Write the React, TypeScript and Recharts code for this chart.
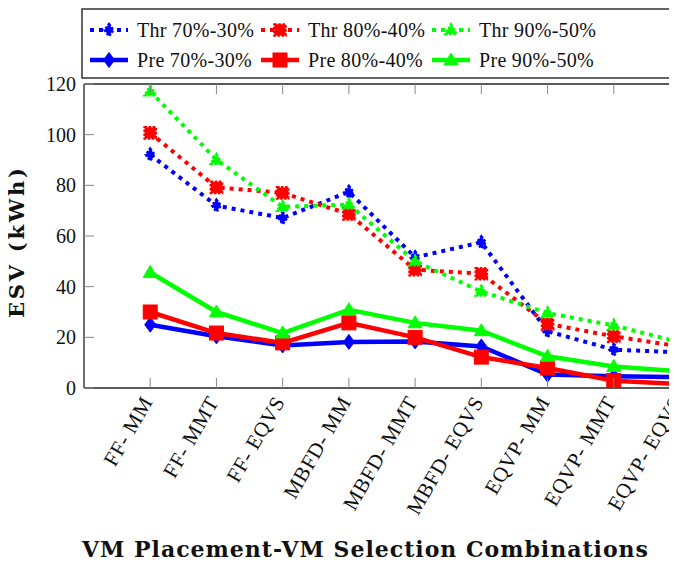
import { Line, LineChart, XAxis, YAxis } from "recharts";

const categories = ["FF- MM", "FF- MMT", "FF- EQVS", "MBFD- MM", "MBFD- MMT", "MBFD- EQVS", "EQVP- MM", "EQVP- MMT", "EQVP- EQVS"];
const thr70 = [92.1, 72, 67.1, 77.4, 51.6, 57.5, 22.4, 15.1, 14.1];
const thr80 = [100.7, 79.2, 77, 68.7, 46.7, 45.1, 25.3, 20.4, 16.4];
const thr90 = [117.1, 90.1, 71.5, 72.4, 50, 38.1, 29.6, 24.7, 18];
const pre70 = [25, 20.4, 16.8, 18.2, 18.4, 16.4, 5.3, 4.6, 4.3];
const pre80 = [30, 21.7, 17.8, 25.7, 20, 12.2, 7.9, 2.9, 1.6];
const pre90 = [45.6, 30, 21.7, 30.9, 25.7, 22.6, 12.5, 8.5, 6.6];
const yTicks = [0, 20, 40, 60, 80, 100, 120];
const xTicks = categories.map((_, i) => i + 1);

const data = categories.map((c, i) => ({
  x: i + 1,
  name: c,
  thr70: thr70[i],
  thr80: thr80[i],
  thr90: thr90[i],
  pre70: pre70[i],
  pre80: pre80[i],
  pre90: pre90[i],
}));

const FONT = "Liberation Serif, DejaVu Serif, serif";
const TXT = { fontFamily: FONT };
const BOLD = { fontFamily: "DejaVu Serif, Liberation Serif, serif", fontWeight: 700 };
const BLUE = "#0000ff";
const RED = "#ff0000";
const GREEN = "#00ff00";
const TICK = "#8a8a8a";
const AXIS = { stroke: "#222", strokeWidth: 1.3 };

type Shape = "diamond" | "square" | "triangle";

function Marker({ cx, cy, shape, color, thr }: { cx: number; cy: number; shape: Shape; color: string; thr?: boolean }) {
  const s = thr ? 0.8 : 1;
  let el;
  if (shape === "diamond") {
    const w = 5.5 * s, h = 7.5 * s;
    el = <polygon points={`${cx},${cy - h} ${cx + w},${cy} ${cx},${cy + h} ${cx - w},${cy}`} />;
  } else if (shape === "square") {
    const h = 7 * s;
    el = <rect x={cx - h} y={cy - h} width={2 * h} height={2 * h} />;
  } else {
    const h = 7 * s;
    el = <polygon points={`${cx},${cy - h} ${cx + h},${cy + h * 0.7} ${cx - h},${cy + h * 0.7}`} />;
  }
  return (
    <g fill={color} stroke={color} strokeWidth={thr ? 2.5 : 1} strokeDasharray={thr ? "2.5 1.5" : undefined}>
      {el}
    </g>
  );
}

function dotFor(shape: Shape, color: string, thr?: boolean) {
  return (p: any) => <Marker key={`m-${p.index}`} cx={p.cx} cy={p.cy} shape={shape} color={color} thr={thr} />;
}

function BottomTick({ x, y, payload }: any) {
  const label = categories[payload.value - 1] ?? "";
  const ax = x - 3, ay = y + 10;
  return (
    <g>
      <line x1={x} y1={y} x2={x} y2={y - 10} stroke={TICK} />
      <text x={ax} y={ay} transform={`rotate(-60 ${ax} ${ay})`} textAnchor="end" dominantBaseline="central" fontSize={21} letterSpacing={0.6} style={TXT} fill="#111">
        {label}
      </text>
    </g>
  );
}

function TopTick({ x, y }: any) {
  return <line x1={x} y1={y} x2={x} y2={y + 10} stroke={TICK} />;
}

function LeftTick({ x, y, payload }: any) {
  return (
    <g>
      <line x1={x} y1={y} x2={x + 10} y2={y} stroke={TICK} />
      <text x={x - 8} y={y} textAnchor="end" dominantBaseline="central" fontSize={20} style={TXT} fill="#111">
        {payload.value}
      </text>
    </g>
  );
}

function RightTick({ x, y }: any) {
  return <line x1={x} y1={y} x2={x - 10} y2={y} stroke={TICK} />;
}

const legendItems = [
  { label: "Thr 70%-30%", color: BLUE, shape: "diamond" as Shape, thr: true, col: 0, row: 0 },
  { label: "Thr 80%-40%", color: RED, shape: "square" as Shape, thr: true, col: 1, row: 0 },
  { label: "Thr 90%-50%", color: GREEN, shape: "triangle" as Shape, thr: true, col: 2, row: 0 },
  { label: "Pre 70%-30%", color: BLUE, shape: "diamond" as Shape, thr: false, col: 0, row: 1 },
  { label: "Pre 80%-40%", color: RED, shape: "square" as Shape, thr: false, col: 1, row: 1 },
  { label: "Pre 90%-50%", color: GREEN, shape: "triangle" as Shape, thr: false, col: 2, row: 1 },
];
const colX = [90, 261, 432];
const rowY = [30, 60];

export default function App() {
  return (
    <div style={{ margin: -8, width: 677, height: 565, overflow: "hidden", position: "relative", background: "#fff" }}>
      <LineChart width={700} height={565} data={data} margin={{ top: 83, right: 19, bottom: 77, left: 24 }}>
        <XAxis xAxisId="b" dataKey="x" type="number" domain={[0, 9]} ticks={xTicks} interval={0} height={100}
          axisLine={AXIS} tickLine={false} tickSize={0} tickMargin={0} tick={BottomTick} allowDataOverflow />
        <XAxis xAxisId="t" orientation="top" dataKey="x" type="number" domain={[0, 9]} ticks={xTicks} interval={0} height={1}
          axisLine={AXIS} tickLine={false} tickSize={0} tickMargin={0} tick={TopTick} allowDataOverflow />
        <YAxis yAxisId="l" type="number" domain={[0, 120]} ticks={yTicks} interval={0} width={60}
          axisLine={AXIS} tickLine={false} tickSize={0} tickMargin={0} tick={LeftTick} allowDataOverflow />
        <YAxis yAxisId="r" orientation="right" type="number" domain={[0, 120]} ticks={yTicks} interval={0} width={1}
          axisLine={AXIS} tickLine={false} tickSize={0} tickMargin={0} tick={RightTick} allowDataOverflow />

        <Line xAxisId="b" yAxisId="l" dataKey="pre70" stroke={BLUE} strokeWidth={4.5} dot={dotFor("diamond", BLUE)} activeDot={false} isAnimationActive={false} />
        <Line xAxisId="b" yAxisId="l" dataKey="pre80" stroke={RED} strokeWidth={4.5} dot={dotFor("square", RED)} activeDot={false} isAnimationActive={false} />
        <Line xAxisId="b" yAxisId="l" dataKey="pre90" stroke={GREEN} strokeWidth={4.5} dot={dotFor("triangle", GREEN)} activeDot={false} isAnimationActive={false} />
        <Line xAxisId="b" yAxisId="l" dataKey="thr70" stroke={BLUE} strokeWidth={4} strokeDasharray="4 5" dot={dotFor("diamond", BLUE, true)} activeDot={false} isAnimationActive={false} />
        <Line xAxisId="b" yAxisId="l" dataKey="thr80" stroke={RED} strokeWidth={4} strokeDasharray="4 5" dot={dotFor("square", RED, true)} activeDot={false} isAnimationActive={false} />
        <Line xAxisId="b" yAxisId="l" dataKey="thr90" stroke={GREEN} strokeWidth={4} strokeDasharray="4 5" dot={dotFor("triangle", GREEN, true)} activeDot={false} isAnimationActive={false} />
      </LineChart>

      <svg width={677} height={565} style={{ position: "absolute", left: 0, top: 0, pointerEvents: "none", fontFamily: FONT }}>
        <rect x={82} y={9} width={620} height={69} fill="#fff" stroke="#333" strokeWidth={1.5} />
        {legendItems.map((it) => {
          const x0 = colX[it.col];
          const y0 = rowY[it.row];
          return (
            <g key={it.label}>
              <line x1={x0} y1={y0} x2={x0 + 38} y2={y0} stroke={it.color} strokeWidth={it.thr ? 4 : 4.5} strokeDasharray={it.thr ? "4 5" : undefined} />
              <Marker cx={x0 + 19} cy={y0} shape={it.shape} color={it.color} thr={it.thr} />
              <text x={x0 + 47} y={y0} dominantBaseline="central" fontSize={20} letterSpacing={0.3} style={TXT} fill="#111">{it.label}</text>
            </g>
          );
        })}
        <text x={365} y={557} textAnchor="middle" fontSize={22} textLength={566} lengthAdjust="spacing" style={BOLD} fill="#111">
          VM Placement-VM Selection Combinations
        </text>
        <text x={24} y={243} transform="rotate(-90 24 243)" textAnchor="middle" fontSize={21} textLength={150} lengthAdjust="spacing" style={BOLD} fill="#111">
          ESV (kWh)
        </text>
      </svg>
    </div>
  );
}
